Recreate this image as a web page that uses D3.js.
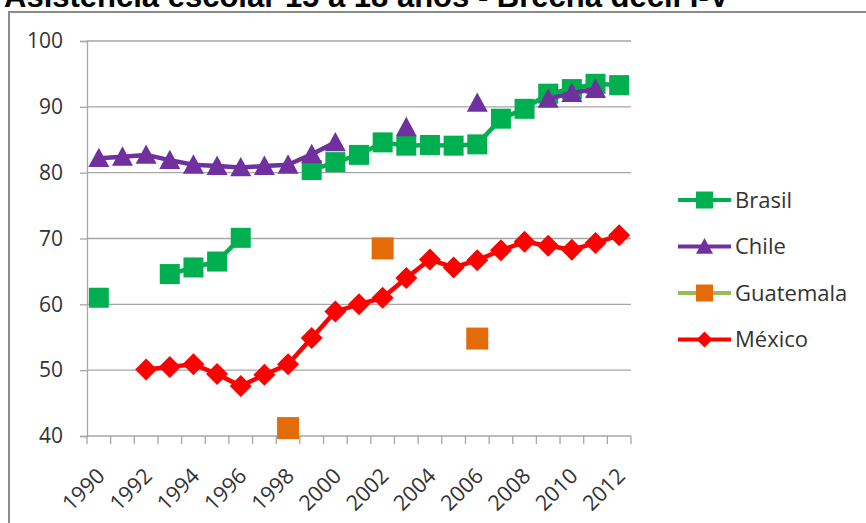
<!DOCTYPE html>
<html>
<head>
<meta charset="utf-8">
<script src="https://cdn.jsdelivr.net/npm/d3@7"></script>
<style>
  html, body { margin: 0; padding: 0; background: #fff; }
  svg { display: block; }
</style>
</head>
<body>
<script>
const title = "Asistencia escolar 15 a 18 años - Brecha decil I-V";
const years = ["1990","1991","1992","1993","1994","1995","1996","1997","1998","1999","2000","2001","2002","2003","2004","2005","2006","2007","2008","2009","2010","2011","2012"];
const yearLabels = ["1990","1992","1994","1996","1998","2000","2002","2004","2006","2008","2010","2012"];
const yTicks = [40, 50, 60, 70, 80, 90, 100];
const seriesNames = ["Brasil", "Chile", "Guatemala", "México"];
const brasil = [61.0, null, null, 64.6, 65.6, 66.5, 70.1, null, null, 80.4, 81.6, 82.7, 84.6, 84.1, 84.2, 84.1, 84.3, 88.2, 89.7, 92.0, 92.7, 93.5, 93.3];
const chile = [82.2, 82.4, 82.7, 81.9, 81.2, 81.0, 80.8, 81.0, 81.2, 82.8, 84.6, null, null, 86.9, null, null, 90.6, null, null, 91.2, 92.1, 92.7, null];
const guatemala = [null, null, null, null, null, null, null, null, 41.2, null, null, null, 68.5, null, null, null, 54.8, null, null, null, null, null, null];
const mexico = [null, null, 50.1, 50.5, 50.9, 49.4, 47.6, 49.3, 50.9, 54.9, 58.9, 60.0, 61.0, 64.0, 66.8, 65.6, 66.7, 68.2, 69.5, 68.9, 68.3, 69.3, 70.5];

const W = 866, H = 523;
const svg = d3.select("body").append("svg").attr("width", W).attr("height", H);
const font = "'Open Sans', 'Liberation Sans', sans-serif";
const textColor = "#333";

// frame
svg.append("path").attr("d", `M9,${H+5} L9,12 L${W+5},12`)
  .attr("fill", "none").attr("stroke", "#8c8c8c").attr("stroke-width", 2);

// title (cut off at top, as in the reference)
svg.append("text").attr("x", 4).attr("y", 6.5)
  .attr("font-family", "'Liberation Sans', Arial, sans-serif")
  .attr("font-weight", "bold").attr("font-size", 31).attr("fill", "#000")
  .text(title);

const x = d3.scaleBand().domain(years).range([87, 631]).padding(0);
const y = d3.scaleLinear().domain([40, 100]).range([436, 41]);

// gridlines
svg.append("g").selectAll("line").data(yTicks.filter(d => d > 40)).join("line")
  .attr("x1", 87).attr("x2", 631)
  .attr("y1", d => y(d)).attr("y2", d => y(d))
  .attr("stroke", "#a6a6a6").attr("stroke-width", 1.3);

// y axis
const yAxis = svg.append("g").attr("transform", "translate(87,0)")
  .call(d3.axisLeft(y).tickValues(yTicks).tickSize(7).tickPadding(17));
yAxis.select(".domain").attr("stroke", "#a6a6a6").attr("stroke-width", 1.3);
yAxis.selectAll(".tick line").attr("stroke", "#a6a6a6").attr("stroke-width", 1.3);
yAxis.selectAll(".tick text").attr("font-family", font).attr("font-size", 21).attr("fill", textColor);

// x axis
const xg = svg.append("g").attr("transform", "translate(0,436)");
xg.append("line").attr("x1", 87).attr("x2", 631).attr("stroke", "#a6a6a6").attr("stroke-width", 1.3);
const bounds = years.map(d => x(d)).concat([x(years[years.length - 1]) + x.bandwidth()]);
xg.selectAll("line.tk").data(bounds).join("line").attr("class", "tk")
  .attr("x1", d => d).attr("x2", d => d).attr("y1", 0).attr("y2", 8)
  .attr("stroke", "#a6a6a6").attr("stroke-width", 1.3);
xg.selectAll("text").data(yearLabels).join("text")
  .attr("transform", d => `translate(${x(d) + x.bandwidth() / 2 + 2},${36}) rotate(-45)`)
  .attr("text-anchor", "end").attr("dy", "0.35em")
  .attr("font-family", font).attr("font-size", 21.5).attr("fill", textColor)
  .text(d => d);

// series
const series = [
  { name: seriesNames[0], values: brasil, color: "#00b050", lineColor: "#00b050", shape: "square", size: 20 },
  { name: seriesNames[1], values: chile, color: "#7030a0", lineColor: "#7030a0", shape: "triangle", size: 21 },
  { name: seriesNames[2], values: guatemala, color: "#e36c09", lineColor: "#9bbb59", shape: "square", size: 22 },
  { name: seriesNames[3], values: mexico, color: "#ff0000", lineColor: "#ff0000", shape: "diamond", size: 22 },
];

function markerPath(shape, s) {
  const h = s / 2;
  if (shape === "square") return `M${-h},${-h}H${h}V${h}H${-h}Z`;
  if (shape === "triangle") return `M0,${-h * 1.0}L${h},${h * 0.85}L${-h},${h * 0.85}Z`;
  if (shape === "diamond") return `M0,${-h}L${h},0L0,${h}L${-h},0Z`;
}

const line = d3.line()
  .defined(d => d.v != null)
  .x(d => x(d.year) + x.bandwidth() / 2)
  .y(d => y(d.v));

series.forEach(s => {
  const pts = years.map((yr, i) => ({ year: yr, v: s.values[i] }));
  const g = svg.append("g");
  g.append("path").datum(pts).attr("d", line)
    .attr("fill", "none").attr("stroke", s.lineColor).attr("stroke-width", 4.5)
    .attr("stroke-linejoin", "round");
  g.selectAll("path.m").data(pts.filter(d => d.v != null)).join("path").attr("class", "m")
    .attr("transform", d => `translate(${x(d.year) + x.bandwidth() / 2},${y(d.v)})`)
    .attr("d", markerPath(s.shape, s.size))
    .attr("fill", s.color);
});

// legend
const lg = svg.append("g");
series.forEach((s, i) => {
  const cy = 200 + i * 46.5;
  lg.append("line").attr("x1", 678).attr("x2", 731).attr("y1", cy).attr("y2", cy)
    .attr("stroke", s.lineColor).attr("stroke-width", 4);
  lg.append("path").attr("transform", `translate(704.5,${cy})`)
    .attr("d", markerPath(s.shape, s.shape === "diamond" ? 16 : 17)).attr("fill", s.color);
  lg.append("text").attr("x", 735).attr("y", cy).attr("dy", "0.36em")
    .attr("font-family", font).attr("font-size", 22).attr("fill", textColor)
    .text(s.name);
});
</script>
</body>
</html>
